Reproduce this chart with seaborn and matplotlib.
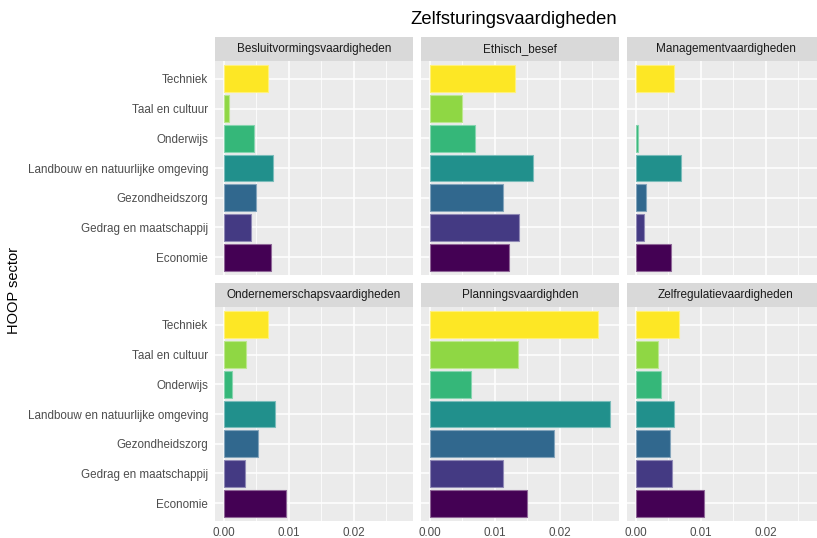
import numpy as np
import pandas as pd
import seaborn as sns
import matplotlib.pyplot as plt
import matplotlib.colors as mcolors

# sectors, top to bottom as in the chart
sectoren = ["Techniek", "Taal en cultuur", "Onderwijs",
            "Landbouw en natuurlijke omgeving", "Gezondheidszorg",
            "Gedrag en maatschappij", "Economie"]

vaardigheden = ["Besluitvormingsvaardigheden", "Ethisch_besef", "Managementvaardigheden",
                "Ondernemerschapsvaardigheden", "Planningsvaardighden", "Zelfregulatievaardigheden"]

# values per skill, same order as sectoren (None = no bar)
besluit = [0.0068, 0.0007, 0.0046, 0.0075, 0.0050, 0.0041, 0.0072]
ethisch = [0.0131, 0.0049, 0.0070, 0.0158, 0.0112, 0.0137, 0.0121]
management = [0.0058, None, 0.0003, 0.0070, 0.0016, 0.0012, 0.0054]
ondernemer = [0.0068, 0.0034, 0.0013, 0.0078, 0.0052, 0.0032, 0.0095]
planning = [0.0258, 0.0135, 0.0063, 0.0277, 0.0191, 0.0112, 0.0149]
zelfreg = [0.0066, 0.0034, 0.0039, 0.0058, 0.0053, 0.0055, 0.0105]

waarden = [besluit, ethisch, management, ondernemer, planning, zelfreg]

rows = []
for v, vals in zip(vaardigheden, waarden):
    for s, w in zip(sectoren, vals):
        if w is not None:
            rows.append({"vaardigheid": v, "sector": s, "waarde": w})
df = pd.DataFrame(rows)

# viridis(7), Economie darkest
kleuren = ["#FDE725", "#8FD744", "#35B779", "#21908C", "#31688E", "#443A83", "#440154"]
pal = dict(zip(sectoren, kleuren))

sns.set_style("white")
plt.rcParams["font.family"] = ["Liberation Sans", "DejaVu Sans"]

W, H = 817, 538
fig = plt.figure(figsize=(W / 100, H / 100), dpi=100)

col_left = [215, 421, 627]
panel_w = 198
row_top = [61, 307]
panel_h = 214
strip_h = 24

xmax = 0.0277
xlim = (-0.05 * xmax, 1.05 * xmax)

for i, v in enumerate(vaardigheden):
    r, c = divmod(i, 3)
    x0 = col_left[c]
    y0 = row_top[r]
    ax = fig.add_axes([x0 / W, 1 - (y0 + panel_h) / H, panel_w / W, panel_h / H])
    ax.set_facecolor("#EBEBEB")
    ax.set_axisbelow(True)

    sub = df[df.vaardigheid == v]
    sns.barplot(data=sub, x="waarde", y="sector", hue="sector", order=sectoren,
                hue_order=sectoren, palette=pal, legend=False, width=0.9,
                saturation=1, errorbar=None, ax=ax, linewidth=0.8)
    for p in ax.patches:
        fc = np.array(mcolors.to_rgb(p.get_facecolor()))
        p.set_edgecolor(0.6 * fc + 0.4 * np.array([1, 1, 1]))

    ax.set_xlim(*xlim)
    ax.set_ylim(6.6, -0.6)
    ax.set_xticks([0, 0.01, 0.02])
    ax.set_xticks([0.005, 0.015, 0.025], minor=True)
    ax.grid(True, which="major", color="white", linewidth=1.1)
    ax.grid(True, which="minor", axis="x", color="white", linewidth=0.55)
    for sp in ax.spines.values():
        sp.set_visible(False)
    ax.set_xlabel("")
    ax.set_ylabel("")
    ax.tick_params(axis="both", which="major", length=3, width=0.8, color="#333333",
                   labelsize=8.4, labelcolor="#4D4D4D", pad=2)
    ax.tick_params(axis="x", which="major", pad=1.2)
    ax.tick_params(axis="both", which="minor", length=0)
    if c == 0:
        ax.set_yticks(range(len(sectoren)))
        ax.set_yticklabels(sectoren)
    else:
        ax.tick_params(axis="y", length=0, labelleft=False)
    if r == 1:
        ax.set_xticklabels(["0.00", "0.01", "0.02"])
    else:
        ax.tick_params(axis="x", length=0, labelbottom=False)

    # facet strip
    sax = fig.add_axes([x0 / W, 1 - y0 / H, panel_w / W, strip_h / H])
    sax.set_facecolor("#D9D9D9")
    sax.set_xticks([])
    sax.set_yticks([])
    for sp in sax.spines.values():
        sp.set_visible(False)
    sax.text(0.5, 0.5, v, ha="center", va="center", fontsize=8.5, color="#1A1A1A",
             transform=sax.transAxes)

fig.text(514 / W, 1 - 20 / H, "Zelfsturingsvaardigheden", ha="center", va="center",
         fontsize=13.2, color="black")
fig.text(14 / W, 1 - 290 / H, "HOOP sector", ha="center", va="center",
         rotation=90, fontsize=10.5, color="black")

fig.savefig("out.png", dpi=100, facecolor="white")
